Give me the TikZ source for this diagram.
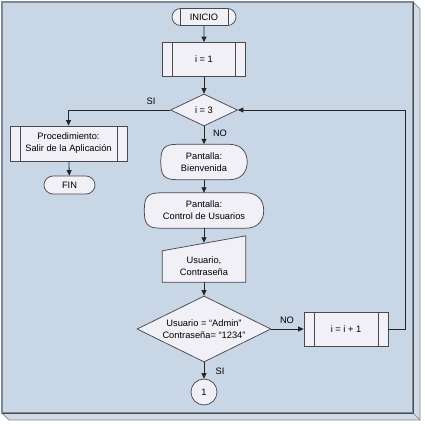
\documentclass[tikz,border=0pt]{standalone}
\usepackage{fontspec}
\setmainfont{Liberation Sans}
\usetikzlibrary{positioning, shapes.misc, shapes.geometric, arrows.meta}
\definecolor{panel}{RGB}{201,214,229}
\definecolor{panelside}{RGB}{210,218,229}
\definecolor{panelline}{RGB}{128,138,150}
\definecolor{boxfill}{RGB}{241,240,246}
\definecolor{edge}{RGB}{72,74,80}
\pgfdeclarelayer{back}
\pgfsetlayers{back,main}

\begin{document}
\begin{tikzpicture}[x=1pt, y=-1pt,
    font=\fontsize{9.3}{12}\selectfont,
    every node/.style={align=center, inner sep=0pt},
    base/.style={draw=edge,
        fill=boxfill,
        line width=0.75pt
        },
    predef/.style={path picture={
        \draw[edge, line width=0.75pt]
            ([xshift=#1]path picture bounding box.north west) --
            ([xshift=#1]path picture bounding box.south west)
            ([xshift=-#1]path picture bounding box.north east) --
            ([xshift=-#1]path picture bounding box.south east);
        }},
    proceso/.style={base,
        rectangle,
        predef=10pt,
        minimum height=34pt
        },
    terminal/.style={base,
        rounded rectangle,
        minimum height=17pt
        },
    decision/.style={base,
        diamond,
        aspect=2
        },
    pantalla/.style={rectangle,
        minimum height=35pt
        },
    conector/.style={base,
        circle,
        minimum size=26pt
        },
    flecha/.style={draw=black!85,
        line width=0.85pt,
        -{Triangle[length=5.5pt,width=5pt]}
        },
    ]
    \useasboundingbox (0,0) rectangle (425,423);

    \node[terminal, predef=8pt, minimum width=64pt] (inicio) at (204,17) {INICIO};
    \node[proceso, minimum width=83pt] (i1) at (204,59.5) {i = 1};
    \node[decision, minimum width=67pt, minimum height=32pt] (d3) at (204,110) {i = 3};

    \node[proceso, minimum width=117pt, minimum height=35pt] (proc) at (68.5,143.5) {Procedimiento:\\Salir de la Aplicación};
    \node[terminal, minimum width=51pt, minimum height=18pt] (fin) at (69.5,185) {FIN};

    \node[pantalla, minimum width=86pt] (pbien) at (204,162) {Pantalla:\\Bienvenida};
    \node[pantalla, minimum width=119pt] (pctrl) at (204,210.5) {Pantalla:\\Control de Usuarios};
    \node[rectangle, minimum width=83pt, minimum height=32pt] (manin) at (204,266) {Usuario,\\Contraseña};

    \node[decision, minimum width=134pt, minimum height=66pt] (d2) at (204,329) {Usuario = “Admin”\\Contraseña= “1234”};
    \node[proceso, minimum width=84pt] (ii) at (346,329) {i = i + 1};
    \node[conector] (uno) at (204,392) {1};
    \coordinate (vuelta) at (405,329);

    \node (si1) at (151,101) {SI};
    \node (no1) at (220,133) {NO};
    \node (no2) at (287,320) {NO};
    \node (si2) at (220,371) {SI};

    \draw[flecha] (inicio) -- (i1);
    \draw[flecha] (i1) -- (d3);
    \draw[flecha] (d3.west) -| (proc.north);
    \draw[flecha] (proc) -- (fin);
    \draw[flecha] (d3) -- (pbien);
    \draw[flecha] (pbien) -- (pctrl);
    \draw[flecha] (pctrl) -- ([yshift=7pt]manin.north);
    \draw[flecha] (manin) -- (d2);
    \draw[flecha] (d2) -- (uno);
    \draw[flecha] (d2) -- (ii);
    \draw[flecha] (ii.east) -- (vuelta) |- (d3.east);

    \begin{pgfonlayer}{back}
    % panel with bevelled edge
    \filldraw[fill=panelside, draw=panelline, line width=0.7pt] (413,2) -- (420,9) -- (420,420) -- (413,413) -- cycle;
    \filldraw[fill=panelside, draw=panelline, line width=0.7pt] (2,413) -- (413,413) -- (420,420) -- (9,420) -- cycle;
    \filldraw[fill=panel, draw=panelline, line width=1.5pt] (2,2) rectangle (413,413);
    \draw[edge, line width=1pt] (413,2) -- (413,413) -- (2,413);

    % screens
    \path[base] ([xshift=16pt]pbien.north west) -- ([xshift=-18pt]pbien.north east)
        .. controls ([xshift=-5pt]pbien.north east) and ([yshift=9pt]pbien.east) .. (pbien.east)
        .. controls ([yshift=-9pt]pbien.east) and ([xshift=-5pt]pbien.south east) .. ([xshift=-18pt]pbien.south east)
        -- ([xshift=16pt]pbien.south west)
        .. controls ([xshift=2pt]pbien.south west) and ([yshift=-12pt]pbien.west) .. (pbien.west)
        .. controls ([yshift=12pt]pbien.west) and ([xshift=2pt]pbien.north west) .. cycle;
    \path[base] ([xshift=16pt]pctrl.north west) -- ([xshift=-18pt]pctrl.north east)
        .. controls ([xshift=-5pt]pctrl.north east) and ([yshift=9pt]pctrl.east) .. (pctrl.east)
        .. controls ([yshift=-9pt]pctrl.east) and ([xshift=-5pt]pctrl.south east) .. ([xshift=-18pt]pctrl.south east)
        -- ([xshift=16pt]pctrl.south west)
        .. controls ([xshift=2pt]pctrl.south west) and ([yshift=-12pt]pctrl.west) .. (pctrl.west)
        .. controls ([yshift=12pt]pctrl.west) and ([xshift=2pt]pctrl.north west) .. cycle;

    % manual input
    \path[base] (manin.south west) -- (manin.south east) -- ([yshift=14pt]manin.north east)
        -- ([yshift=-1pt]manin.north west) -- cycle;
    \end{pgfonlayer}

\end{tikzpicture}
\end{document}
